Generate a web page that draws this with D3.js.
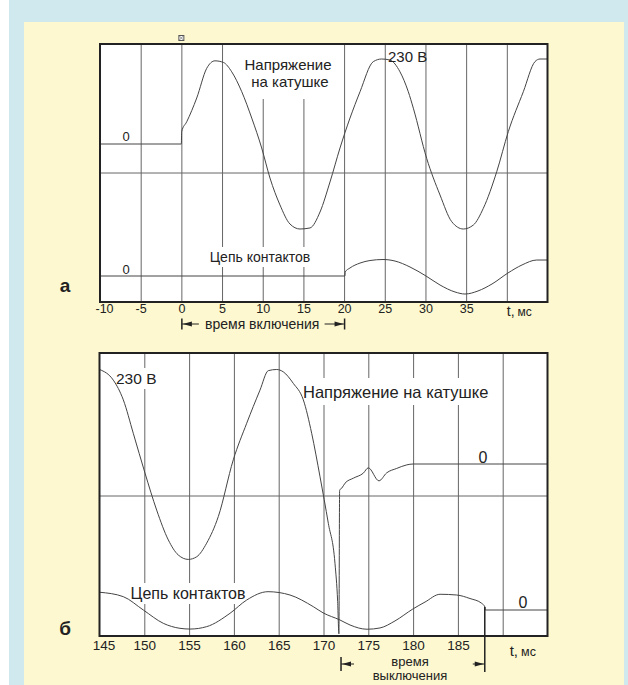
<!DOCTYPE html>
<html>
<head>
<meta charset="utf-8">
<script src="https://cdn.jsdelivr.net/npm/d3@7"></script>
<style>
  body { margin: 0; background: #fff; }
  svg { display: block; font-family: "Liberation Sans", Arial, sans-serif; }
</style>
</head>
<body>
<svg id="chart" width="628" height="685"></svg>
<script>
// ---- data ----
// panel a: switch-on, t in ms
const ticksA = [-10, -5, 0, 5, 10, 15, 20, 25, 30, 35];
const gridA = [-5, 0, 5, 10, 15, 20, 25, 30, 35, 40];
// coil voltage, V (peak 325 V = 230 V rms)
const coilA = [
  [-10, 0], [0, 0], [0.03, 47], [0.66, 85], [1.89, 176], [3.11, 289], [4.13, 318],
  [5.16, 312], [6.19, 276], [7.42, 200], [8.65, 99], [9.87, -15], [10.89, -130],
  [12.12, -233], [13.35, -306], [14.58, -325], [15.81, -321], [17.04, -260],
  [18.27, -145], [19.5, -15], [21.96, 200], [23.59, 315], [24.62, 325], [25.64, 321],
  [26.87, 276], [27.89, 200], [28.51, 137], [30.15, -55], [31.79, -195], [33.23, -297],
  [34.65, -325], [35.88, -310], [37.11, -246], [38.76, -106], [40.18, 47], [42.03, 200],
  [43.46, 315], [44.08, 325], [45, 325]
];
// contact circuit, relative units
const contactsA = [
  [-10, 0], [20.1, 0], [20.14, 0.24], [20.72, 0.47], [21.95, 0.76], [23.18, 0.91],
  [24.78, 0.97], [26.26, 0.88], [28.1, 0.53], [30.07, 0], [31.79, -0.53], [33.63, -0.94],
  [34.86, -1.06], [36.46, -0.88], [38.18, -0.47], [40.15, 0.18], [41.87, 0.65],
  [43.68, 0.94], [45, 0.94]
];

// panel b: switch-off, t in ms
const ticksB = [145, 150, 155, 160, 165, 170, 175, 180, 185];
const gridB = [150, 155, 160, 165, 170, 175, 180, 185, 190];
const coilB = [
  [145, 320], [146.54, 284], [147.66, 217], [148.77, 104], [150.08, -31], [151.38, -156],
  [152.68, -257], [153.79, -308], [154.91, -323], [155.85, -314], [156.96, -268],
  [158.26, -178], [159.93, 14], [161.43, 138], [162.91, 250], [163.84, 316], [164.78, 320],
  [165.51, 312], [166.63, 273], [167.75, 217], [168.68, 104], [169.61, -43], [170.54, -201],
  [171.28, -336], [171.58, -466], [171.72, -575], [171.8, -88], [172.03, -82], [172.4, -65],
  [173.33, -48], [174.44, -31], [175.0, -13], [176.19, -57], [177.05, -30], [178.17, -15],
  [179.29, -3], [180, 0], [195, 0]
];
const contactsB = [
  [145, 0.96], [147.66, 0.72], [149.89, 0], [152.12, -0.72], [153.98, -0.99], [155.1, -1.03],
  [156.96, -0.9], [159.56, -0.18], [161.43, 0.54], [163.81, 0.99], [166.26, 0.81],
  [168.86, 0.18], [169.94, -0.15], [171.84, -0.54], [172.96, -0.81], [174.86, -1.04],
  [176.31, -0.97], [177.98, -0.59], [179.96, 0.05], [181.33, 0.43], [183.01, 0.85],
  [184.87, 0.81], [186.35, 0.62], [187.66, 0.36], [188.02, 0.16], [188.06, 0], [195, 0]
];
const onTime = [0, 20];       // время включения
const offTime = [171.9, 188]; // время выключения

// ---- drawing ----
const svg = d3.select('#chart');
const gridColor = '#666';

svg.append('rect').attr('x', 9).attr('y', 0).attr('width', 619).attr('height', 685).attr('fill', '#d0e9ee');
svg.append('rect').attr('x', 24).attr('y', 22).attr('width', 600).attr('height', 663).attr('fill', '#fdf8cf');

function panel(opt) {
  const { x, yCoil, yCont, top, bottom, grid, ticks, tickSize, coil, contacts, midY } = opt;
  const g = svg.append('g');
  const [x0, x1] = x.range();

  g.append('rect').attr('x', x0).attr('y', top).attr('width', x1 - x0).attr('height', bottom - top)
    .attr('fill', '#fff');

  // vertical grid
  g.append('g')
    .attr('transform', `translate(0,${bottom})`)
    .call(d3.axisBottom(x).tickValues(grid).tickSize(-(bottom - top)).tickFormat(''))
    .call(s => s.select('.domain').remove())
    .call(s => s.selectAll('line').attr('stroke', gridColor).attr('stroke-width', 1));

  // centre line
  g.append('line').attr('x1', x0).attr('x2', x1).attr('y1', midY).attr('y2', midY)
    .attr('stroke', gridColor).attr('stroke-width', 1);

  // tick labels
  const ax = g.append('g')
    .attr('transform', `translate(0,${bottom})`)
    .call(d3.axisBottom(x).tickValues(ticks).tickSize(0).tickPadding(opt.tickPad).tickFormat(d => String(d)));
  ax.select('.domain').remove();
  ax.selectAll('text').attr('font-family', '"Liberation Sans", Arial, sans-serif')
    .attr('font-size', tickSize).attr('fill', '#222');
  ax.selectAll('.tick').filter((d, i) => i === 0).select('text').attr('dx', 4);

  // label backgrounds (knock out grid behind text)
  const bg = g.append('g');
  const labels = g.append('g');
  opt.labels.forEach(l => {
    const t = labels.append('text').attr('x', l.x).attr('y', l.y)
      .attr('font-size', l.size).attr('text-anchor', l.anchor || 'start').attr('fill', '#222')
      .text(l.text);
    if (l.bg) {
      const b = t.node().getBBox();
      const yTop = Math.max(top + 1, b.y - (l.padTop || 2));
      bg.append('rect').attr('x', b.x - 4).attr('y', yTop)
        .attr('width', b.width + 8).attr('height', b.y + b.height + (l.padBottom || 2) - yTop)
        .attr('fill', '#fff');
    }
  });

  const clip = 'clip' + top;
  svg.append('clipPath').attr('id', clip).append('rect')
    .attr('x', x0).attr('y', top).attr('width', x1 - x0).attr('height', bottom - top);

  const traces = g.append('g').attr('clip-path', `url(#${clip})`);
  traces.append('path').datum(coil)
    .attr('d', d3.line().x(d => x(d[0])).y(d => yCoil(d[1])).curve(d3.curveMonotoneX))
    .attr('fill', 'none').attr('stroke', '#444').attr('stroke-width', 1);
  traces.append('path').datum(contacts)
    .attr('d', d3.line().x(d => x(d[0])).y(d => yCont(d[1])).curve(d3.curveMonotoneX))
    .attr('fill', 'none').attr('stroke', '#444').attr('stroke-width', 1);
  labels.raise();

  // frame
  g.append('rect').attr('x', x0).attr('y', top).attr('width', x1 - x0).attr('height', bottom - top)
    .attr('fill', 'none').attr('stroke', '#222').attr('stroke-width', 2);
  return g;
}

function arrowHead(g, xTip, y, dir) {
  g.append('path')
    .attr('d', `M${xTip},${y} L${xTip - dir * 9},${y - 2.5} L${xTip - dir * 9},${y + 2.5} Z`)
    .attr('fill', '#222');
}

function axisName(g, x, y, big, small) {
  const t = g.append('text').attr('x', x).attr('y', y).attr('fill', '#222');
  t.append('tspan').attr('font-size', big).text('t,');
  t.append('tspan').attr('font-size', small).attr('dx', 3).text('мс');
}

// ---- panel a ----
const xA = d3.scaleLinear().domain([-10, 45]).range([100, 547.5]);
const yCoilA = d3.scaleLinear().domain([0, 325]).range([144, 59]);
const yContA = d3.scaleLinear().domain([0, 1]).range([276, 259]);

const gA = panel({
  x: xA, yCoil: yCoilA, yCont: yContA, top: 44, bottom: 302, midY: 173,
  grid: gridA, ticks: ticksA, tickSize: '12.5px', tickPad: 2,
  coil: coilA, contacts: contactsA,
  labels: [
    { text: 'Напряжение', x: 288, y: 70, size: '15px', anchor: 'middle', bg: true, padTop: 20 },
    { text: 'на катушке', x: 290, y: 87, size: '15px', anchor: 'middle', bg: true, padBottom: 9 },
    { text: '230 В', x: 388, y: 62, size: '15px' },
    { text: '0', x: 126, y: 141, size: '13px', anchor: 'middle' },
    { text: '0', x: 126, y: 273.5, size: '13px', anchor: 'middle' },
    { text: 'Цепь контактов', x: 260, y: 262, size: '14px', anchor: 'middle', bg: true }
  ]
});

// marker at t = 0
gA.append('rect').attr('x', xA(0) - 2.5).attr('y', 35.5).attr('width', 5).attr('height', 5)
  .attr('fill', '#fff').attr('stroke', '#555').attr('stroke-width', 1);
gA.append('path').attr('d', `M${xA(0) - 2},36 L${xA(0) + 2},40 M${xA(0) + 2},36 L${xA(0) - 2},40`)
  .attr('stroke', '#777').attr('stroke-width', 0.8);

axisName(gA, xA(40), 316, '14px', '12px');

// время включения
{
  const y = 324;
  const xa = xA(onTime[0]) + 0.5, xb = xA(onTime[1]) + 0.5;
  gA.append('line').attr('x1', xa).attr('x2', xa).attr('y1', y - 5.5).attr('y2', y + 5.5)
    .attr('stroke', '#222').attr('stroke-width', 1.5);
  gA.append('line').attr('x1', xb).attr('x2', xb).attr('y1', y - 5.5).attr('y2', y + 5.5)
    .attr('stroke', '#222').attr('stroke-width', 1.5);
  gA.append('line').attr('x1', xa).attr('x2', xa + 17).attr('y1', y).attr('y2', y).attr('stroke', '#222');
  gA.append('line').attr('x1', xb - 20).attr('x2', xb).attr('y1', y).attr('y2', y).attr('stroke', '#222');
  arrowHead(gA, xa + 1, y, -1);
  arrowHead(gA, xb - 1, y, 1);
  gA.append('text').attr('x', (xa + xb) / 2 - 1).attr('y', y + 5).attr('text-anchor', 'middle')
    .attr('font-size', '14px').attr('fill', '#222').text('время включения');
}

svg.append('text').attr('x', 65).attr('y', 292).attr('text-anchor', 'middle')
  .attr('font-size', '19px').attr('font-weight', 'bold').attr('fill', '#222').text('а');

// ---- panel b ----
const xB = d3.scaleLinear().domain([145, 195]).range([99.5, 547.5]);
const yCoilB = d3.scaleLinear().domain([0, 325]).range([464, 368]);
const yContB = d3.scaleLinear().domain([0, 1]).range([610, 591.5]);

const gB = panel({
  x: xB, yCoil: yCoilB, yCont: yContB, top: 353, bottom: 636, midY: 496,
  grid: gridB, ticks: ticksB, tickSize: '13.5px', tickPad: 4,
  coil: coilB, contacts: contactsB,
  labels: [
    { text: '230 В', x: 116, y: 384, size: '15.5px', bg: true },
    { text: 'Напряжение на катушке', x: 303, y: 398, size: '16.5px', bg: true, padTop: 5, padBottom: 4 },
    { text: '0', x: 483, y: 463, size: '16px', anchor: 'middle' },
    { text: 'Цепь контактов', x: 188, y: 599, size: '16px', anchor: 'middle', bg: true },
    { text: '0', x: 523, y: 608, size: '16px', anchor: 'middle' }
  ]
});

axisName(gB, xB(190) + 7, 656, '15px', '12.5px');

// время выключения
{
  const y = 664;
  const xa = xB(offTime[0]) + 0.5, xb = xB(offTime[1]);
  gB.append('line').attr('x1', xa).attr('x2', xa).attr('y1', y - 7).attr('y2', y + 7)
    .attr('stroke', '#222').attr('stroke-width', 1.5);
  gB.append('line').attr('x1', xb).attr('x2', xb).attr('y1', yContB(0.16)).attr('y2', y + 8)
    .attr('stroke', '#222').attr('stroke-width', 1.5);
  gB.append('line').attr('x1', xa).attr('x2', xa + 13).attr('y1', y).attr('y2', y).attr('stroke', '#222');
  gB.append('line').attr('x1', xb - 12).attr('x2', xb).attr('y1', y).attr('y2', y).attr('stroke', '#222');
  arrowHead(gB, xa + 1, y, -1);
  arrowHead(gB, xb - 1, y, 1);
  gB.append('text').attr('x', 410).attr('y', 666).attr('text-anchor', 'middle')
    .attr('font-size', '13px').attr('fill', '#222').text('время');
  gB.append('text').attr('x', 410).attr('y', 679.5).attr('text-anchor', 'middle')
    .attr('font-size', '13px').attr('fill', '#222').text('выключения');
}

svg.append('text').attr('x', 65).attr('y', 635).attr('text-anchor', 'middle')
  .attr('font-size', '19px').attr('font-weight', 'bold').attr('fill', '#222').text('б');
</script>
</body>
</html>
